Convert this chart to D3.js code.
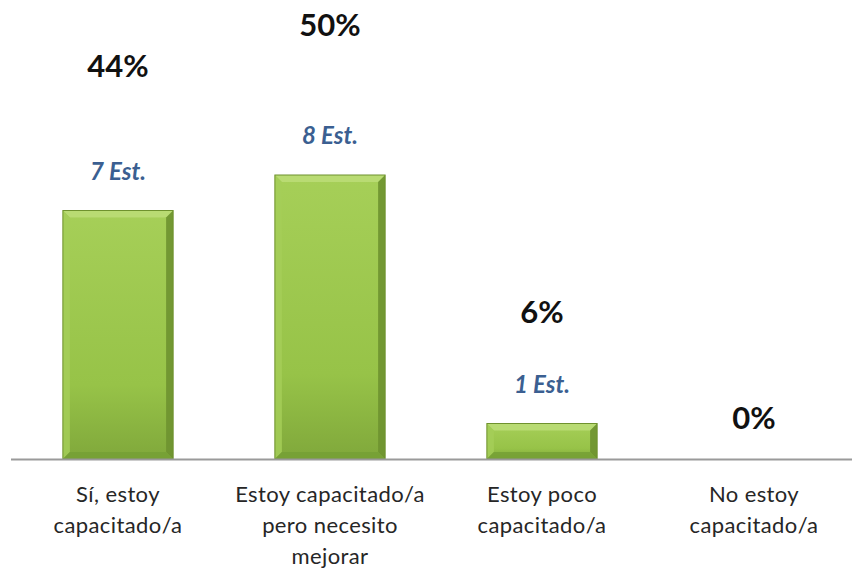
<!DOCTYPE html>
<html><head><meta charset="utf-8">
<script src="https://cdn.jsdelivr.net/npm/d3@7"></script>
<style>html,body{margin:0;padding:0;background:#fff;}svg{display:block;}</style>
</head><body>
<script>
const categories = ["Sí, estoy\ncapacitado/a", "Estoy capacitado/a\npero necesito\nmejorar", "Estoy poco\ncapacitado/a", "No estoy\ncapacitado/a"];
const students = [7, 8, 1, 0];
const percents = ["44%", "50%", "6%", "0%"];
const countLabels = ["7 Est.", "8 Est.", "1 Est.", ""];

const W = 852, H = 569;
const svg = d3.select("body").append("svg").attr("width", W).attr("height", H);
const defs = svg.append("defs");
const g1 = defs.append("linearGradient").attr("id","body").attr("x1",0).attr("y1",0).attr("x2",0).attr("y2",1);
g1.append("stop").attr("offset","0%").attr("stop-color","#a6cf58");
g1.append("stop").attr("offset","70%").attr("stop-color","#97c348");
g1.append("stop").attr("offset","100%").attr("stop-color","#80a83b");

const x = d3.scaleBand().domain(d3.range(categories.length)).range([12, 860]).paddingInner(0.48).paddingOuter(0.24);
const y = d3.scaleLinear().domain([0, 8]).range([459, 175]);
const base = y(0);
const bev = 7;

svg.selectAll("g.bar").data(students.map((v,i)=>({v,i})).filter(d=>d.v>0)).join("g").attr("class","bar").each(function(d){
  const gg = d3.select(this);
  const x0 = x(d.i), x1 = x0 + x.bandwidth(), y0 = y(d.v), y1 = base;
  const b = Math.min(bev, (y1 - y0) / 3);
  gg.append("rect").attr("x", x0).attr("y", y0).attr("width", x1 - x0).attr("height", y1 - y0).attr("fill", "url(#body)");
  gg.append("polygon").attr("points", [[x0,y0],[x1,y0],[x1-b,y0+b],[x0+b,y0+b]].join(" ")).attr("fill","#bcdd78").attr("opacity",0.85);
  gg.append("polygon").attr("points", [[x0,y0],[x0+b,y0+b],[x0+b,y1-b],[x0,y1]].join(" ")).attr("fill","#a4ce58").attr("opacity",0.85);
  gg.append("polygon").attr("points", [[x1,y0],[x1,y1],[x1-b,y1-b],[x1-b,y0+b]].join(" ")).attr("fill","#6e9230").attr("opacity",0.9);
  gg.append("polygon").attr("points", [[x0,y1],[x1,y1],[x1-b,y1-b],[x0+b,y1-b]].join(" ")).attr("fill","#76a035").attr("opacity",0.85);
  gg.append("rect").attr("x", x0).attr("y", y0).attr("width", x1 - x0).attr("height", y1 - y0).attr("fill", "none").attr("stroke","#6f922e").attr("stroke-width",1);
});

svg.append("line").attr("x1", 11).attr("x2", W).attr("y1", base + 0.5).attr("y2", base + 0.5).attr("stroke", "#9a9a9a").attr("stroke-width", 2);

svg.append("g").selectAll("text").data(students).join("text")
  .attr("x", (d,i) => x(i) + x.bandwidth()/2)
  .attr("y", d => y(d) - 31)
  .attr("text-anchor","middle").attr("font-family","Lato, 'Open Sans', sans-serif").attr("font-style","italic").attr("font-weight","bold")
  .attr("font-size", 24).attr("fill","#3b5f91")
  .text((d,i) => countLabels[i]);

svg.append("g").selectAll("text").data(students).join("text")
  .attr("x", (d,i) => x(i) + x.bandwidth()/2)
  .attr("y", d => y(d) - 30 - (d > 0 ? 65 + 5.5 * d : 0))
  .attr("text-anchor","middle").attr("font-family","Lato, 'Open Sans', sans-serif").attr("font-weight","bold")
  .attr("font-size", 31).attr("fill","#111")
  .text((d,i) => percents[i]);

const cl = svg.append("g").selectAll("text").data(categories).join("text")
  .attr("x", (d,i) => x(i) + x.bandwidth()/2)
  .attr("y", 502)
  .attr("text-anchor","middle").attr("font-family","Lato, 'Open Sans', sans-serif")
  .attr("font-size", 22).attr("fill","#262626").attr("letter-spacing", 0.4);
cl.each(function(d){
  const t = d3.select(this);
  d.split("\n").forEach((line, k) => {
    t.append("tspan").attr("x", t.attr("x")).attr("dy", k === 0 ? 0 : 31).text(line);
  });
});
</script>
</body></html>
